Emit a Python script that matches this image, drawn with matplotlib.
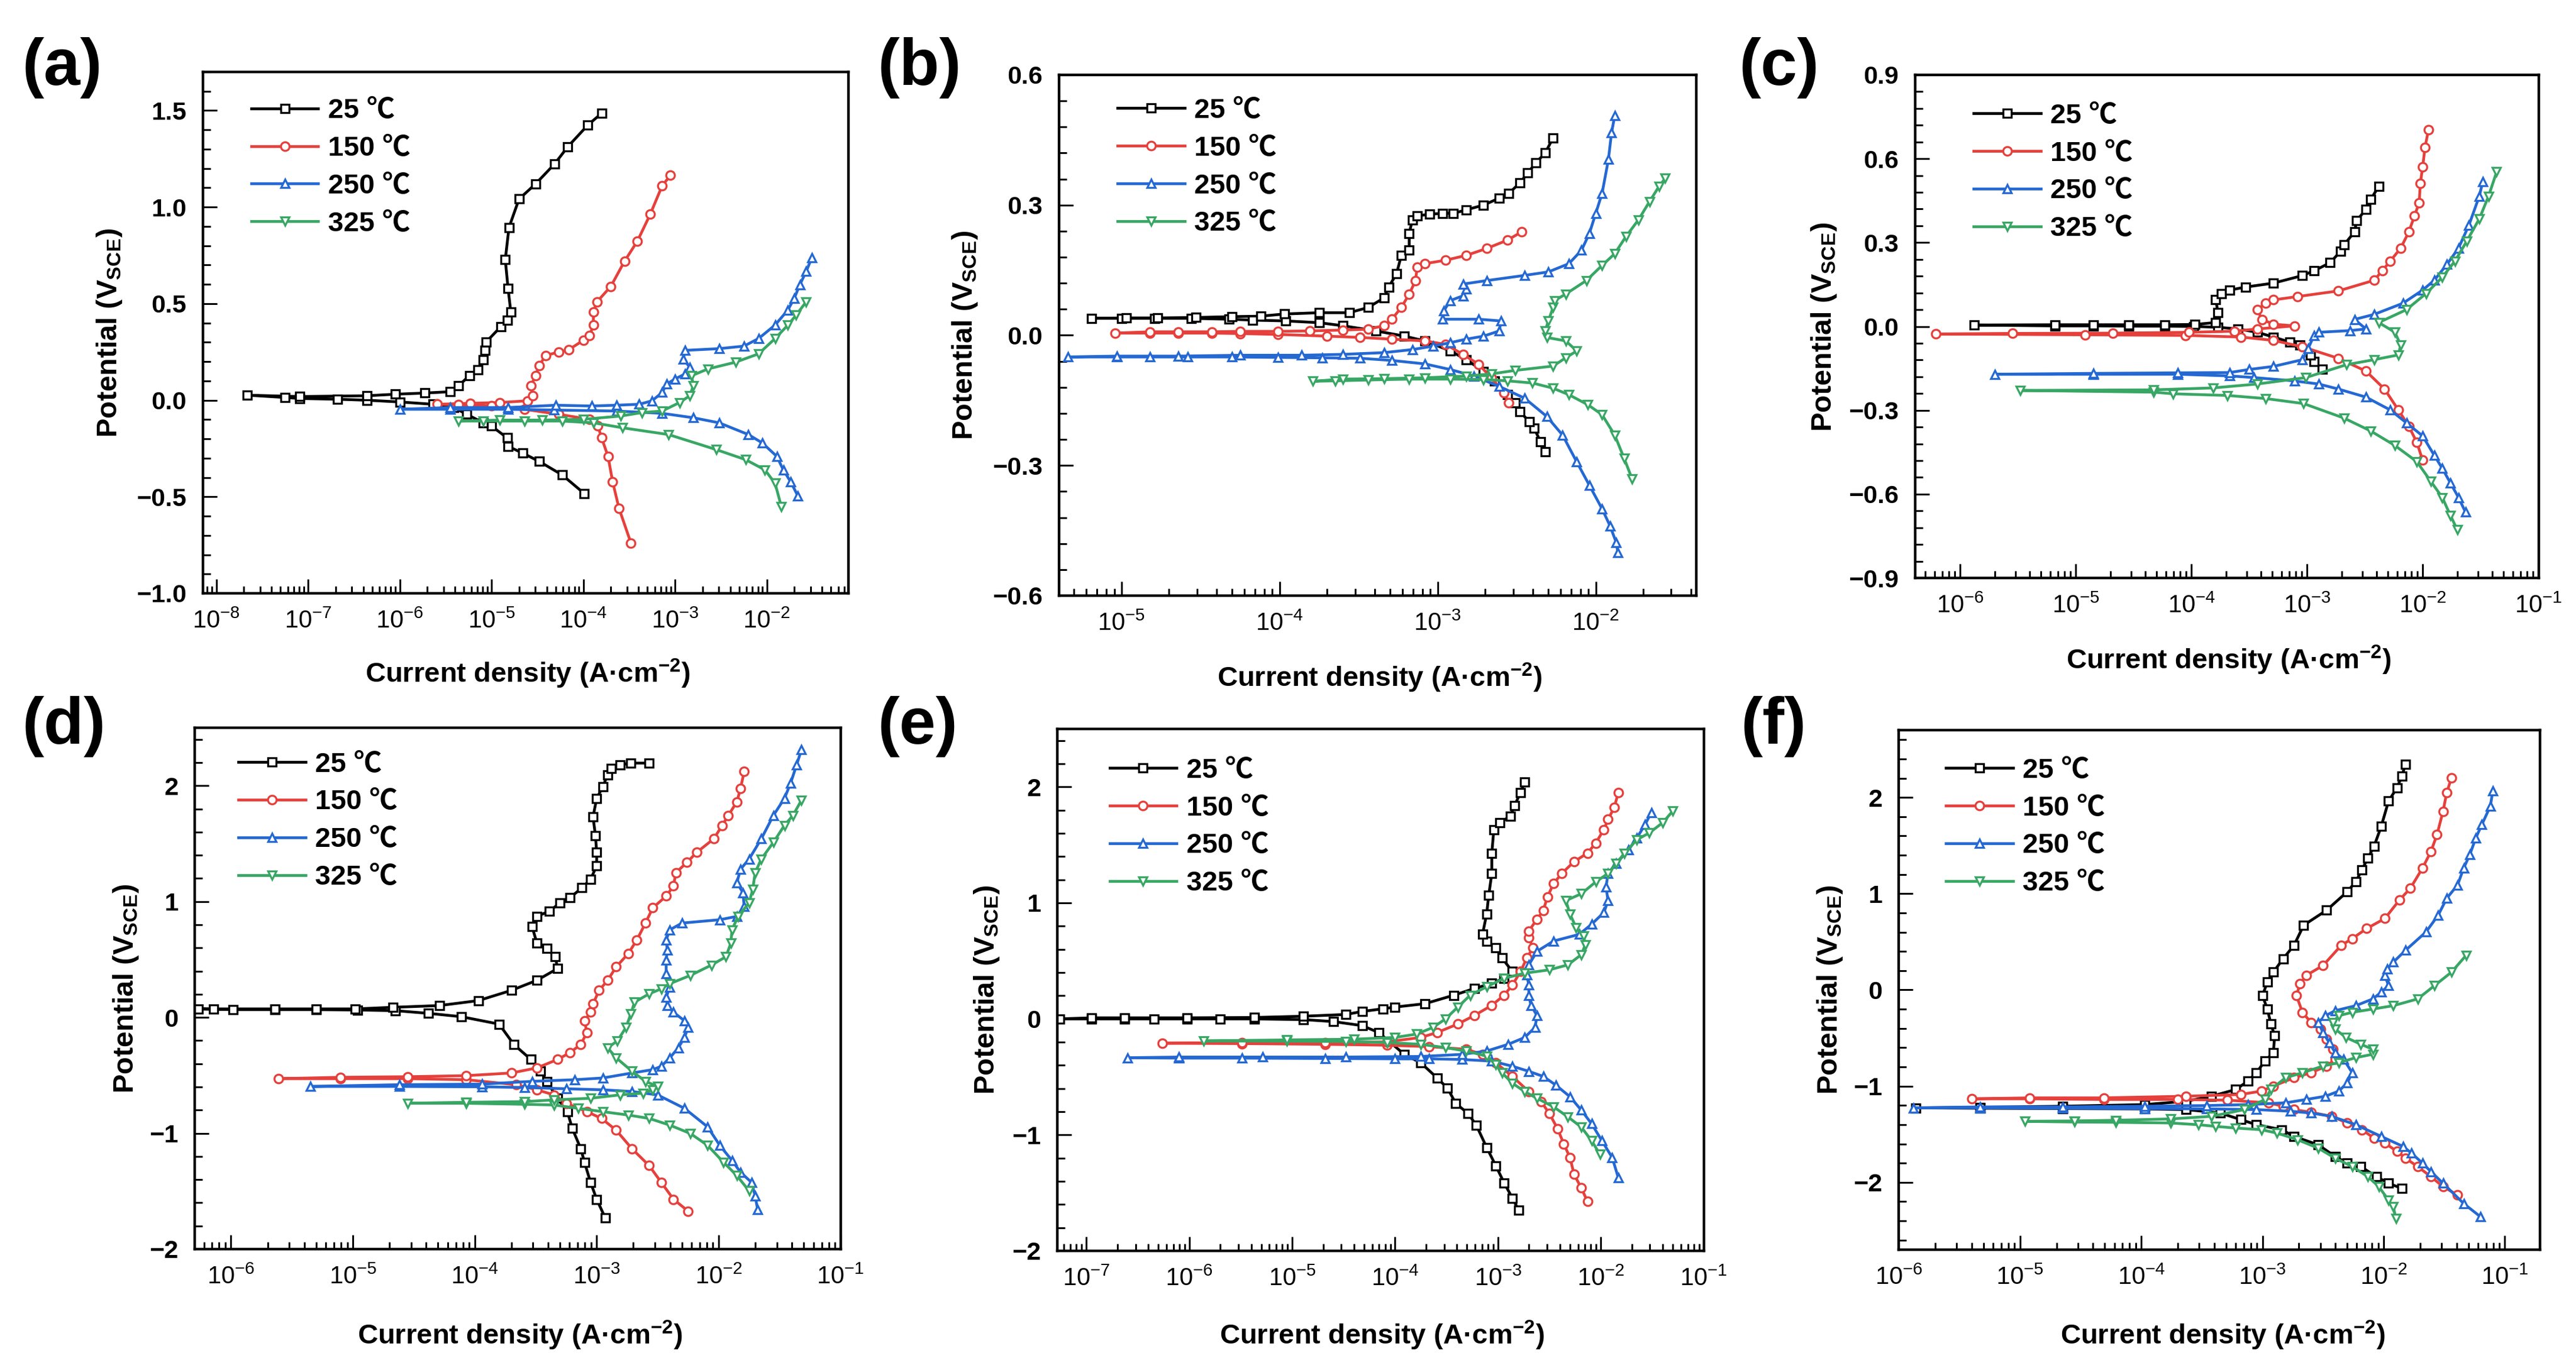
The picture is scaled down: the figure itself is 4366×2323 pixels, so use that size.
import numpy as np
import matplotlib
matplotlib.use('Agg')
from matplotlib import pyplot as plt
from matplotlib.ticker import LogLocator, MultipleLocator, FuncFormatter, NullFormatter

plt.rcParams['font.family'] = ['Liberation Sans', 'Noto Sans CJK SC', 'DejaVu Sans']
plt.rcParams['mathtext.fontset'] = 'custom'
plt.rcParams['mathtext.rm'] = 'Liberation Sans'
plt.rcParams['mathtext.it'] = 'Liberation Sans:italic'
plt.rcParams['mathtext.bf'] = 'Liberation Sans:bold'

# log10 of current density (A/cm2) and potential (V vs SCE)
# each curve runs from the cathodic end, through Ecorr, to the anodic end

# (a)
a25_lgi = [-3.99, -4.23, -4.48, -4.66, -4.82, -4.83, -5.00, -5.09, -5.27, -5.41, -5.64, -6.00, -6.36, -6.68, -7.09, -7.25, -7.66, -7.09, -6.36, -6.05, -5.73, -5.45, -5.36, -5.24, -5.15, -5.09, -5.07, -5.06, -4.90, -4.83, -4.79, -4.82, -4.85, -4.81, -4.70, -4.52, -4.31, -4.17, -3.95, -3.80]
a25_E = [-0.483, -0.387, -0.317, -0.274, -0.239, -0.195, -0.134, -0.117, -0.073, -0.038, -0.021, -0.009, 0.000, 0.005, 0.009, 0.014, 0.026, 0.019, 0.023, 0.031, 0.037, 0.044, 0.075, 0.127, 0.157, 0.211, 0.258, 0.301, 0.380, 0.415, 0.458, 0.580, 0.728, 0.894, 1.042, 1.120, 1.225, 1.312, 1.425, 1.486]
a150_lgi = [-3.48, -3.61, -3.68, -3.73, -3.80, -3.84, -3.93, -4.27, -4.64, -5.00, -5.36, -5.59, -5.23, -4.91, -4.61, -4.55, -4.57, -4.52, -4.48, -4.41, -4.27, -4.16, -4.00, -3.93, -3.89, -3.89, -3.85, -3.70, -3.55, -3.41, -3.27, -3.14, -3.05]
a150_E = [-0.740, -0.561, -0.422, -0.291, -0.195, -0.134, -0.099, -0.073, -0.047, -0.030, -0.024, -0.021, -0.016, -0.012, -0.003, 0.023, 0.075, 0.127, 0.179, 0.232, 0.249, 0.261, 0.310, 0.336, 0.389, 0.458, 0.510, 0.589, 0.720, 0.824, 0.963, 1.111, 1.164]
a250_lgi = [-1.66, -1.74, -1.82, -1.89, -2.05, -2.20, -2.52, -2.80, -3.14, -3.64, -4.32, -4.82, -5.45, -6.00, -5.45, -4.82, -4.30, -3.91, -3.64, -3.39, -3.25, -3.14, -3.09, -3.00, -2.89, -2.84, -2.91, -2.89, -2.52, -2.25, -2.09, -1.91, -1.77, -1.70, -1.64, -1.57, -1.51]
a250_E = [-0.497, -0.422, -0.361, -0.291, -0.221, -0.178, -0.117, -0.091, -0.068, -0.056, -0.051, -0.047, -0.047, -0.047, -0.038, -0.038, -0.026, -0.030, -0.026, -0.021, -0.003, 0.040, 0.084, 0.110, 0.136, 0.171, 0.214, 0.258, 0.267, 0.280, 0.319, 0.389, 0.467, 0.528, 0.598, 0.667, 0.737]
a325_lgi = [-1.84, -1.91, -2.02, -2.23, -2.55, -3.07, -3.57, -3.89, -4.23, -4.64, -5.09, -5.36, -4.91, -4.45, -4.00, -3.59, -3.36, -3.14, -2.95, -2.84, -2.80, -2.82, -2.64, -2.34, -2.09, -1.91, -1.77, -1.68, -1.57]
a325_E = [-0.552, -0.430, -0.361, -0.308, -0.256, -0.178, -0.143, -0.117, -0.108, -0.108, -0.108, -0.108, -0.103, -0.103, -0.099, -0.082, -0.064, -0.056, -0.012, 0.023, 0.075, 0.127, 0.162, 0.197, 0.240, 0.319, 0.389, 0.441, 0.510]

# (b)
b25_lgi = [-2.32, -2.35, -2.39, -2.42, -2.48, -2.51, -2.56, -2.64, -2.71, -2.82, -2.92, -3.08, -3.21, -3.39, -3.60, -3.75, -3.96, -4.17, -4.32, -4.56, -4.79, -5.00, -5.19, -4.97, -4.77, -4.53, -4.30, -4.12, -3.97, -3.75, -3.56, -3.44, -3.34, -3.31, -3.26, -3.23, -3.18, -3.18, -3.16, -3.13, -3.05, -2.97, -2.90, -2.82, -2.71, -2.61, -2.55, -2.48, -2.43, -2.38, -2.32, -2.27]
b25_E = [-0.269, -0.245, -0.214, -0.199, -0.176, -0.156, -0.137, -0.106, -0.083, -0.056, -0.036, -0.013, -0.002, 0.010, 0.022, 0.029, 0.033, 0.035, 0.037, 0.039, 0.039, 0.039, 0.039, 0.040, 0.040, 0.041, 0.043, 0.044, 0.049, 0.052, 0.052, 0.064, 0.086, 0.111, 0.142, 0.184, 0.196, 0.235, 0.266, 0.275, 0.279, 0.281, 0.281, 0.289, 0.300, 0.316, 0.327, 0.351, 0.374, 0.397, 0.420, 0.455]
b150_lgi = [-2.55, -2.58, -2.66, -2.74, -2.84, -2.95, -3.08, -3.29, -3.49, -3.70, -4.01, -4.25, -4.43, -4.64, -4.82, -5.04, -4.82, -4.64, -4.43, -4.25, -4.01, -3.81, -3.60, -3.44, -3.34, -3.29, -3.23, -3.18, -3.14, -3.13, -3.08, -2.95, -2.82, -2.69, -2.56, -2.47]
b150_E = [-0.156, -0.133, -0.098, -0.067, -0.044, -0.021, -0.013, -0.009, -0.005, -0.002, 0.002, 0.004, 0.005, 0.005, 0.005, 0.005, 0.008, 0.008, 0.008, 0.009, 0.009, 0.010, 0.012, 0.014, 0.022, 0.037, 0.064, 0.095, 0.126, 0.157, 0.165, 0.173, 0.184, 0.200, 0.219, 0.238]
b250_lgi = [-1.86, -1.87, -1.91, -1.96, -2.04, -2.12, -2.21, -2.31, -2.45, -2.61, -2.77, -2.92, -3.08, -3.29, -3.49, -3.73, -4.01, -4.30, -4.58, -4.82, -5.03, -5.34, -5.03, -4.64, -4.25, -3.86, -3.60, -3.34, -3.16, -3.03, -2.92, -2.82, -2.71, -2.61, -2.60, -2.74, -2.97, -2.96, -2.92, -2.84, -2.82, -2.84, -2.69, -2.45, -2.30, -2.17, -2.09, -2.04, -2.00, -1.96, -1.92, -1.90, -1.88]
b250_E = [-0.501, -0.478, -0.439, -0.400, -0.346, -0.292, -0.230, -0.187, -0.145, -0.118, -0.094, -0.079, -0.066, -0.058, -0.053, -0.052, -0.051, -0.050, -0.050, -0.050, -0.050, -0.050, -0.048, -0.048, -0.046, -0.046, -0.044, -0.040, -0.033, -0.025, -0.017, -0.009, -0.002, 0.010, 0.033, 0.037, 0.037, 0.057, 0.080, 0.091, 0.107, 0.118, 0.126, 0.138, 0.146, 0.165, 0.196, 0.235, 0.281, 0.327, 0.405, 0.467, 0.506]
b325_lgi = [-1.77, -1.82, -1.88, -1.96, -2.05, -2.17, -2.27, -2.40, -2.56, -2.71, -2.92, -3.18, -3.44, -3.65, -3.79, -3.60, -3.34, -3.08, -2.82, -2.66, -2.51, -2.27, -2.19, -2.12, -2.19, -2.31, -2.32, -2.30, -2.27, -2.26, -2.19, -2.06, -1.96, -1.88, -1.81, -1.73, -1.66, -1.60, -1.56]
b325_E = [-0.331, -0.284, -0.230, -0.183, -0.160, -0.137, -0.122, -0.110, -0.105, -0.102, -0.101, -0.101, -0.103, -0.105, -0.106, -0.101, -0.100, -0.098, -0.094, -0.089, -0.081, -0.071, -0.052, -0.036, -0.013, -0.005, 0.010, 0.033, 0.064, 0.080, 0.095, 0.126, 0.161, 0.188, 0.227, 0.266, 0.308, 0.343, 0.362]

# (c)
c25_lgi = [-2.87, -2.94, -2.97, -3.06, -3.15, -3.29, -3.43, -3.60, -3.77, -3.98, -4.23, -4.54, -4.85, -5.18, -5.88, -5.18, -4.85, -4.54, -4.23, -3.97, -3.79, -3.77, -3.79, -3.74, -3.67, -3.53, -3.29, -3.04, -2.94, -2.80, -2.71, -2.68, -2.59, -2.57, -2.49, -2.45, -2.38]
c25_E = [-0.154, -0.125, -0.102, -0.067, -0.056, -0.038, -0.021, -0.009, -0.003, 0.000, 0.001, 0.001, 0.002, 0.002, 0.005, 0.006, 0.006, 0.006, 0.006, 0.007, 0.014, 0.049, 0.095, 0.118, 0.130, 0.141, 0.155, 0.182, 0.199, 0.228, 0.269, 0.292, 0.338, 0.379, 0.419, 0.454, 0.501]
c150_lgi = [-2.00, -2.05, -2.12, -2.21, -2.33, -2.49, -2.73, -3.04, -3.29, -3.57, -4.05, -4.92, -6.21, -5.55, -4.68, -4.02, -3.63, -3.43, -3.11, -3.29, -3.39, -3.43, -3.36, -3.29, -3.08, -2.73, -2.42, -2.35, -2.28, -2.19, -2.12, -2.07, -2.03, -2.02, -2.00, -1.98, -1.95]
c150_E = [-0.479, -0.415, -0.357, -0.299, -0.224, -0.160, -0.114, -0.073, -0.050, -0.038, -0.032, -0.030, -0.027, -0.025, -0.024, -0.021, -0.017, -0.009, 0.002, 0.008, 0.025, 0.060, 0.083, 0.095, 0.107, 0.127, 0.165, 0.199, 0.234, 0.280, 0.338, 0.396, 0.443, 0.512, 0.570, 0.640, 0.703]
c250_lgi = [-1.63, -1.69, -1.76, -1.83, -1.90, -2.00, -2.14, -2.28, -2.49, -2.73, -2.90, -3.11, -3.46, -3.67, -4.12, -4.85, -5.70, -4.85, -4.12, -3.67, -3.50, -3.29, -3.04, -2.99, -2.94, -2.90, -2.63, -2.49, -2.59, -2.42, -2.17, -2.00, -1.90, -1.79, -1.69, -1.60, -1.51, -1.48]
c250_E = [-0.664, -0.612, -0.560, -0.508, -0.461, -0.392, -0.345, -0.299, -0.253, -0.224, -0.206, -0.195, -0.183, -0.177, -0.171, -0.171, -0.171, -0.168, -0.166, -0.165, -0.154, -0.143, -0.119, -0.079, -0.032, -0.021, -0.015, -0.009, 0.025, 0.043, 0.083, 0.130, 0.165, 0.222, 0.280, 0.362, 0.466, 0.518]
c325_lgi = [-1.70, -1.76, -1.83, -1.93, -2.05, -2.24, -2.45, -2.68, -3.03, -3.36, -3.69, -4.16, -4.33, -5.48, -4.33, -3.81, -3.43, -3.01, -2.66, -2.42, -2.21, -2.19, -2.24, -2.38, -2.14, -1.97, -1.83, -1.72, -1.62, -1.51, -1.43, -1.36]
c325_E = [-0.728, -0.676, -0.612, -0.554, -0.484, -0.426, -0.374, -0.328, -0.276, -0.258, -0.247, -0.241, -0.235, -0.229, -0.227, -0.220, -0.206, -0.183, -0.137, -0.119, -0.102, -0.067, -0.021, 0.014, 0.060, 0.118, 0.176, 0.234, 0.304, 0.385, 0.466, 0.553]

# (d)
d25_lgi = [-2.93, -3.00, -3.05, -3.10, -3.13, -3.20, -3.24, -3.32, -3.41, -3.46, -3.54, -3.68, -3.80, -4.11, -4.38, -4.65, -4.96, -5.30, -5.64, -5.98, -6.27, -6.14, -5.64, -5.30, -4.98, -4.67, -4.29, -3.97, -3.70, -3.49, -3.32, -3.34, -3.41, -3.49, -3.53, -3.49, -3.39, -3.30, -3.22, -3.12, -3.05, -3.00, -3.00, -3.01, -3.03, -3.00, -2.95, -2.91, -2.88, -2.81, -2.72, -2.57]
d25_E = [-1.730, -1.570, -1.424, -1.250, -1.134, -0.959, -0.814, -0.698, -0.552, -0.465, -0.363, -0.233, -0.058, 0.006, 0.035, 0.058, 0.064, 0.067, 0.067, 0.067, 0.073, 0.073, 0.073, 0.073, 0.073, 0.087, 0.102, 0.145, 0.233, 0.320, 0.422, 0.523, 0.596, 0.640, 0.785, 0.872, 0.916, 0.988, 1.032, 1.119, 1.192, 1.308, 1.424, 1.570, 1.730, 1.890, 1.991, 2.093, 2.151, 2.180, 2.195, 2.195]
d150_lgi = [-2.25, -2.37, -2.47, -2.57, -2.71, -2.84, -2.96, -3.08, -3.25, -3.35, -3.49, -3.66, -4.07, -4.55, -5.10, -5.61, -5.10, -4.55, -4.07, -3.70, -3.49, -3.32, -3.22, -3.13, -3.08, -3.10, -3.05, -3.03, -2.98, -2.91, -2.84, -2.74, -2.67, -2.60, -2.54, -2.43, -2.37, -2.35, -2.26, -2.18, -2.04, -1.97, -1.92, -1.85, -1.82, -1.79]
d150_E = [-1.672, -1.570, -1.424, -1.279, -1.134, -0.974, -0.872, -0.814, -0.741, -0.669, -0.625, -0.581, -0.538, -0.529, -0.529, -0.529, -0.517, -0.512, -0.503, -0.480, -0.436, -0.363, -0.305, -0.233, -0.131, -0.029, 0.044, 0.116, 0.233, 0.320, 0.436, 0.552, 0.669, 0.814, 0.945, 1.047, 1.134, 1.250, 1.337, 1.424, 1.541, 1.657, 1.744, 1.860, 1.977, 2.122]
d250_lgi = [-1.68, -1.70, -1.73, -1.82, -1.89, -1.99, -2.09, -2.28, -2.50, -2.71, -2.95, -3.25, -3.59, -3.94, -4.62, -5.35, -4.62, -3.94, -3.53, -3.18, -2.95, -2.71, -2.54, -2.47, -2.40, -2.33, -2.28, -2.25, -2.28, -2.37, -2.42, -2.43, -2.40, -2.43, -2.43, -2.42, -2.43, -2.40, -2.30, -1.99, -1.85, -1.79, -1.80, -1.85, -1.82, -1.75, -1.65, -1.55, -1.46, -1.41, -1.36, -1.32]
d250_E = [-1.657, -1.541, -1.424, -1.337, -1.235, -1.105, -0.945, -0.785, -0.669, -0.640, -0.625, -0.616, -0.605, -0.599, -0.596, -0.596, -0.581, -0.576, -0.552, -0.538, -0.523, -0.480, -0.451, -0.422, -0.349, -0.262, -0.174, -0.087, -0.029, 0.044, 0.102, 0.174, 0.262, 0.378, 0.494, 0.581, 0.669, 0.756, 0.814, 0.843, 0.872, 0.959, 1.076, 1.163, 1.279, 1.366, 1.541, 1.744, 1.890, 2.020, 2.180, 2.311]
d325_lgi = [-1.75, -1.85, -1.96, -2.09, -2.23, -2.40, -2.57, -2.74, -2.95, -3.15, -3.35, -3.59, -4.07, -4.55, -4.07, -3.59, -3.35, -3.05, -2.81, -2.62, -2.54, -2.50, -2.60, -2.71, -2.84, -2.91, -2.83, -2.76, -2.72, -2.69, -2.57, -2.47, -2.40, -2.23, -2.06, -1.94, -1.90, -1.89, -1.84, -1.75, -1.72, -1.70, -1.65, -1.55, -1.46, -1.39, -1.32]
d325_E = [-1.497, -1.366, -1.250, -1.105, -1.003, -0.930, -0.872, -0.843, -0.814, -0.785, -0.756, -0.750, -0.741, -0.741, -0.733, -0.727, -0.712, -0.698, -0.669, -0.654, -0.625, -0.596, -0.552, -0.465, -0.349, -0.262, -0.203, -0.087, 0.029, 0.131, 0.203, 0.247, 0.291, 0.363, 0.451, 0.523, 0.640, 0.756, 0.872, 0.988, 1.105, 1.250, 1.366, 1.512, 1.657, 1.744, 1.875]

# (e)
e25_lgi = [-2.80, -2.86, -2.94, -3.02, -3.11, -3.21, -3.29, -3.41, -3.49, -3.59, -3.75, -3.91, -4.16, -4.32, -4.60, -4.89, -5.37, -5.70, -6.02, -6.34, -6.63, -6.95, -7.26, -6.95, -6.63, -6.02, -5.37, -4.89, -4.48, -4.32, -4.12, -4.00, -3.71, -3.43, -3.23, -3.06, -2.94, -2.86, -2.96, -3.02, -3.11, -3.15, -3.11, -3.09, -3.06, -3.06, -3.04, -2.98, -2.88, -2.84, -2.78, -2.74]
e25_E = [-1.647, -1.545, -1.414, -1.268, -1.108, -0.918, -0.816, -0.729, -0.598, -0.510, -0.379, -0.306, -0.117, -0.058, -0.023, -0.006, 0.000, 0.000, 0.000, 0.000, 0.000, 0.000, 0.000, 0.009, 0.009, 0.009, 0.012, 0.023, 0.038, 0.064, 0.087, 0.102, 0.131, 0.204, 0.262, 0.306, 0.350, 0.408, 0.525, 0.612, 0.671, 0.729, 0.904, 1.064, 1.254, 1.429, 1.633, 1.691, 1.749, 1.837, 1.953, 2.041]
e150_lgi = [-2.13, -2.19, -2.26, -2.30, -2.36, -2.42, -2.50, -2.58, -2.70, -2.86, -3.02, -3.15, -3.31, -3.67, -4.08, -4.68, -5.49, -6.26, -5.49, -4.68, -4.08, -3.75, -3.59, -3.39, -3.23, -3.06, -2.94, -2.86, -2.78, -2.72, -2.66, -2.70, -2.70, -2.62, -2.56, -2.52, -2.46, -2.38, -2.26, -2.13, -2.05, -1.97, -1.93, -1.87, -1.83]
e150_E = [-1.574, -1.458, -1.341, -1.195, -1.079, -0.948, -0.816, -0.714, -0.627, -0.496, -0.379, -0.306, -0.262, -0.239, -0.227, -0.219, -0.213, -0.210, -0.204, -0.204, -0.198, -0.160, -0.117, -0.044, 0.029, 0.117, 0.204, 0.292, 0.408, 0.525, 0.612, 0.700, 0.758, 0.860, 0.933, 1.050, 1.166, 1.254, 1.356, 1.429, 1.516, 1.633, 1.720, 1.822, 1.953]
e250_lgi = [-1.83, -1.89, -1.99, -2.09, -2.19, -2.30, -2.44, -2.56, -2.70, -2.86, -3.06, -3.35, -3.67, -4.00, -4.68, -5.49, -6.10, -6.60, -6.10, -5.29, -4.48, -3.75, -3.35, -3.11, -2.90, -2.74, -2.64, -2.62, -2.68, -2.70, -2.70, -2.72, -2.70, -2.62, -2.46, -2.21, -2.09, -1.97, -1.93, -1.95, -1.93, -1.85, -1.73, -1.65, -1.57, -1.51]
e250_E = [-1.370, -1.195, -1.050, -0.904, -0.787, -0.671, -0.569, -0.496, -0.452, -0.408, -0.364, -0.350, -0.344, -0.344, -0.341, -0.338, -0.338, -0.335, -0.329, -0.329, -0.329, -0.324, -0.306, -0.277, -0.219, -0.160, -0.073, 0.029, 0.117, 0.204, 0.292, 0.379, 0.466, 0.583, 0.671, 0.729, 0.816, 0.918, 1.020, 1.137, 1.254, 1.341, 1.458, 1.560, 1.676, 1.778]
e325_lgi = [-2.01, -2.09, -2.19, -2.32, -2.46, -2.62, -2.74, -2.86, -2.96, -3.02, -3.11, -3.31, -3.51, -3.75, -4.08, -4.48, -5.05, -5.86, -5.05, -4.40, -4.00, -3.79, -3.63, -3.51, -3.39, -3.27, -3.11, -2.94, -2.74, -2.50, -2.32, -2.19, -2.15, -2.17, -2.24, -2.30, -2.34, -2.19, -2.05, -1.93, -1.85, -1.77, -1.65, -1.53, -1.40, -1.30]
e325_E = [-1.166, -1.050, -0.933, -0.845, -0.758, -0.685, -0.627, -0.554, -0.466, -0.394, -0.321, -0.277, -0.248, -0.219, -0.204, -0.195, -0.192, -0.190, -0.181, -0.175, -0.160, -0.131, -0.073, 0.000, 0.102, 0.204, 0.277, 0.350, 0.394, 0.423, 0.466, 0.554, 0.641, 0.714, 0.787, 0.904, 1.020, 1.079, 1.181, 1.254, 1.341, 1.429, 1.545, 1.603, 1.691, 1.793]

# (f)
f25_lgi = [-1.85, -1.96, -2.06, -2.19, -2.30, -2.40, -2.54, -2.74, -2.84, -3.05, -3.18, -3.35, -3.63, -3.97, -4.65, -5.33, -5.86, -5.33, -4.65, -3.97, -3.63, -3.42, -3.22, -3.12, -3.05, -2.98, -2.91, -2.90, -2.93, -2.96, -3.00, -2.96, -2.91, -2.83, -2.74, -2.66, -2.47, -2.30, -2.23, -2.18, -2.13, -2.08, -2.02, -1.96, -1.89, -1.85, -1.82]
f25_E = [-2.063, -2.010, -1.941, -1.836, -1.801, -1.732, -1.610, -1.523, -1.453, -1.401, -1.348, -1.279, -1.244, -1.237, -1.233, -1.230, -1.226, -1.220, -1.209, -1.192, -1.157, -1.105, -1.035, -0.948, -0.861, -0.739, -0.652, -0.477, -0.355, -0.199, -0.059, 0.080, 0.185, 0.324, 0.463, 0.672, 0.829, 1.021, 1.125, 1.247, 1.369, 1.491, 1.700, 1.962, 2.101, 2.223, 2.345]
f150_lgi = [-1.39, -1.51, -1.61, -1.72, -1.82, -1.89, -1.99, -2.08, -2.18, -2.30, -2.43, -2.60, -2.74, -2.83, -2.95, -3.29, -3.70, -4.31, -4.92, -5.40, -4.92, -4.31, -3.63, -3.18, -3.01, -2.91, -2.74, -2.60, -2.47, -2.40, -2.42, -2.47, -2.52, -2.60, -2.67, -2.72, -2.69, -2.64, -2.50, -2.35, -2.26, -2.14, -1.99, -1.87, -1.78, -1.68, -1.61, -1.56, -1.51, -1.48, -1.44]
f150_E = [-2.132, -2.045, -1.941, -1.836, -1.749, -1.679, -1.592, -1.540, -1.453, -1.383, -1.314, -1.272, -1.244, -1.209, -1.174, -1.146, -1.139, -1.139, -1.132, -1.132, -1.122, -1.122, -1.105, -1.087, -1.052, -1.000, -0.913, -0.861, -0.791, -0.721, -0.617, -0.512, -0.408, -0.338, -0.233, -0.059, 0.063, 0.150, 0.254, 0.463, 0.533, 0.638, 0.742, 0.934, 1.056, 1.265, 1.439, 1.613, 1.857, 2.049, 2.206]
f250_lgi = [-1.20, -1.34, -1.51, -1.61, -1.68, -1.77, -1.84, -2.02, -2.23, -2.43, -2.60, -2.77, -3.05, -3.46, -3.97, -4.65, -5.33, -5.88, -5.33, -4.65, -3.97, -3.46, -3.12, -2.81, -2.64, -2.48, -2.37, -2.30, -2.26, -2.33, -2.40, -2.45, -2.50, -2.54, -2.48, -2.40, -2.23, -2.09, -2.02, -1.96, -1.99, -1.97, -1.92, -1.82, -1.65, -1.55, -1.48, -1.39, -1.34, -1.29, -1.24, -1.19, -1.12, -1.10]
f250_E = [-2.359, -2.220, -2.010, -1.889, -1.801, -1.697, -1.627, -1.523, -1.401, -1.314, -1.279, -1.261, -1.244, -1.237, -1.233, -1.230, -1.226, -1.226, -1.216, -1.216, -1.209, -1.202, -1.192, -1.174, -1.139, -1.105, -1.052, -0.965, -0.861, -0.721, -0.652, -0.547, -0.443, -0.338, -0.268, -0.216, -0.164, -0.094, -0.024, 0.045, 0.150, 0.220, 0.289, 0.411, 0.603, 0.777, 0.951, 1.091, 1.265, 1.404, 1.578, 1.718, 1.909, 2.066]
f325_lgi = [-1.90, -1.92, -1.96, -2.04, -2.13, -2.26, -2.40, -2.54, -2.71, -2.88, -3.01, -3.22, -3.39, -3.53, -3.76, -4.21, -4.55, -4.96, -4.55, -4.21, -3.76, -3.42, -3.15, -2.98, -2.93, -2.81, -2.67, -2.50, -2.37, -2.23, -2.09, -2.09, -2.19, -2.31, -2.40, -2.42, -2.37, -2.26, -2.09, -1.92, -1.72, -1.58, -1.44, -1.32]
f325_E = [-2.376, -2.254, -2.185, -2.045, -1.941, -1.836, -1.749, -1.645, -1.557, -1.488, -1.453, -1.436, -1.418, -1.401, -1.383, -1.376, -1.373, -1.366, -1.362, -1.355, -1.341, -1.314, -1.244, -1.139, -1.035, -0.913, -0.861, -0.791, -0.756, -0.704, -0.669, -0.617, -0.564, -0.495, -0.408, -0.338, -0.268, -0.233, -0.199, -0.164, -0.094, 0.045, 0.185, 0.359]

temps = ['25 ℃', '150 ℃', '250 ℃', '325 ℃']
colors = ['#000000', '#E5403C', '#2468D2', '#38A664']
markers = ['s', 'o', '^', 'v']

panels = [
    dict(tag='(a)', curves=[(a25_lgi, a25_E), (a150_lgi, a150_E), (a250_lgi, a250_E), (a325_lgi, a325_E)],
         xlim=(-8.145, -1.11), ylim=(-1.0, 1.70), major=0.5, minor=0.1, fmt='%.1f',
         rect=[0.07879, 0.56694, 0.25057, 0.38054], leg=(0.075, 0.950),
         ylab=(0.0424, 0.7572), xlab=(0.2048, 0.5084), tagxy=(0.0085, 0.9505)),
    dict(tag='(b)', curves=[(b25_lgi, b25_E), (b150_lgi, b150_E), (b250_lgi, b250_E), (b325_lgi, b325_E)],
         xlim=(-5.395, -1.364), ylim=(-0.6, 0.6), major=0.3, minor=0.06, fmt='%.1f',
         rect=[0.41113, 0.56522, 0.24737, 0.38011], leg=(0.092, 0.956),
         ylab=(0.3745, 0.7553), xlab=(0.5355, 0.5050), tagxy=(0.3406, 0.9505)),
    dict(tag='(c)', curves=[(c25_lgi, c25_E), (c150_lgi, c150_E), (c250_lgi, c250_E), (c325_lgi, c325_E)],
         xlim=(-6.39, -0.995), ylim=(-0.9, 0.9), major=0.3, minor=0.06, fmt='%.1f',
         rect=[0.74347, 0.57813, 0.24210, 0.36720], leg=(0.094, 0.944),
         ylab=(0.7080, 0.7615), xlab=(0.8653, 0.5179), tagxy=(0.6750, 0.9505)),
    dict(tag='(d)', curves=[(d25_lgi, d25_E), (d150_lgi, d150_E), (d250_lgi, d250_E), (d325_lgi, d325_E)],
         xlim=(-6.297, -0.998), ylim=(-2.0, 2.5), major=1.0, minor=0.2, fmt='%.0f',
         rect=[0.07558, 0.08825, 0.25080, 0.38054], leg=(0.068, 0.954),
         ylab=(0.0488, 0.2785), xlab=(0.2018, 0.0250), tagxy=(0.0085, 0.4697)),
    dict(tag='(e)', curves=[(e25_lgi, e25_E), (e150_lgi, e150_E), (e250_lgi, e250_E), (e325_lgi, e325_E)],
         xlim=(-7.283, -0.998), ylim=(-2.0, 2.5), major=1.0, minor=0.2, fmt='%.0f',
         rect=[0.41044, 0.08696, 0.25103, 0.38097], leg=(0.081, 0.945),
         ylab=(0.3830, 0.2774), xlab=(0.5366, 0.0250), tagxy=(0.3406, 0.4697)),
    dict(tag='(f)', curves=[(f25_lgi, f25_E), (f150_lgi, f150_E), (f250_lgi, f250_E), (f325_lgi, f325_E)],
         xlim=(-6.002, -0.71), ylim=(-2.7, 2.7), major=1.0, minor=0.2, fmt='%.0f',
         rect=[0.73706, 0.08782, 0.24897, 0.37925], leg=(0.074, 0.947),
         ylab=(0.7103, 0.2774), xlab=(0.8628, 0.0250), tagxy=(0.6759, 0.4697)),
]


def make_fmt(fmt):
    def f(v, pos):
        if abs(v) < 1e-9:
            v = 0.0
        return (fmt % v).replace('-', '\u2212')
    return FuncFormatter(f)


fig = plt.figure(figsize=(43.66, 23.23), dpi=100)

for p in panels:
    ax = fig.add_axes(p['rect'])
    for (lgi, pot), col, mk, lab in zip(p['curves'], colors, markers, temps):
        ax.plot(10.0 ** np.asarray(lgi), pot, color=col, lw=3.4, marker=mk, ms=10.5,
                mfc='white', mec=col, mew=2.4, label=lab)
    ax.set_xscale('log')
    ax.set_xlim(10 ** p['xlim'][0], 10 ** p['xlim'][1])
    ax.set_ylim(*p['ylim'])
    ax.xaxis.set_major_locator(LogLocator(base=10, numticks=30))
    ax.xaxis.set_minor_locator(LogLocator(base=10, subs=np.arange(2, 10), numticks=30))
    ax.xaxis.set_minor_formatter(NullFormatter())
    ax.yaxis.set_major_locator(MultipleLocator(p['major']))
    ax.yaxis.set_minor_locator(MultipleLocator(p['minor']))
    ax.yaxis.set_major_formatter(make_fmt(p['fmt']))
    ax.tick_params(which='both', direction='in', top=False, right=False, width=2.2)
    ax.tick_params(which='major', length=17)
    ax.tick_params(which='minor', length=9)
    ax.tick_params(axis='x', labelsize=30, pad=20)
    ax.tick_params(axis='y', labelsize=31, pad=20)
    for lab in ax.get_yticklabels():
        lab.set_fontweight('bold')
    for s in ax.spines.values():
        s.set_linewidth(3.2)

    ax.legend(loc='upper left', bbox_to_anchor=p['leg'], frameon=False,
              prop=dict(size=34, weight='bold'), handlelength=2.4, handletextpad=0.35,
              labelspacing=0.42, borderpad=0, borderaxespad=0, numpoints=1)

    fig.text(p['ylab'][0], p['ylab'][1], 'Potential (V$_{\\mathdefault{SCE}}$)', rotation=90,
             ha='center', va='center', fontsize=35, fontweight='bold')
    fig.text(p['xlab'][0], p['xlab'][1], 'Current density (A\u00b7cm$^{\\mathdefault{-2}}$)',
             ha='center', va='center', fontsize=34, fontweight='bold')
    fig.text(p['tagxy'][0], p['tagxy'][1], p['tag'], ha='left', va='center',
             fontsize=80, fontweight='bold')

fig.savefig('out.png', dpi=100)
